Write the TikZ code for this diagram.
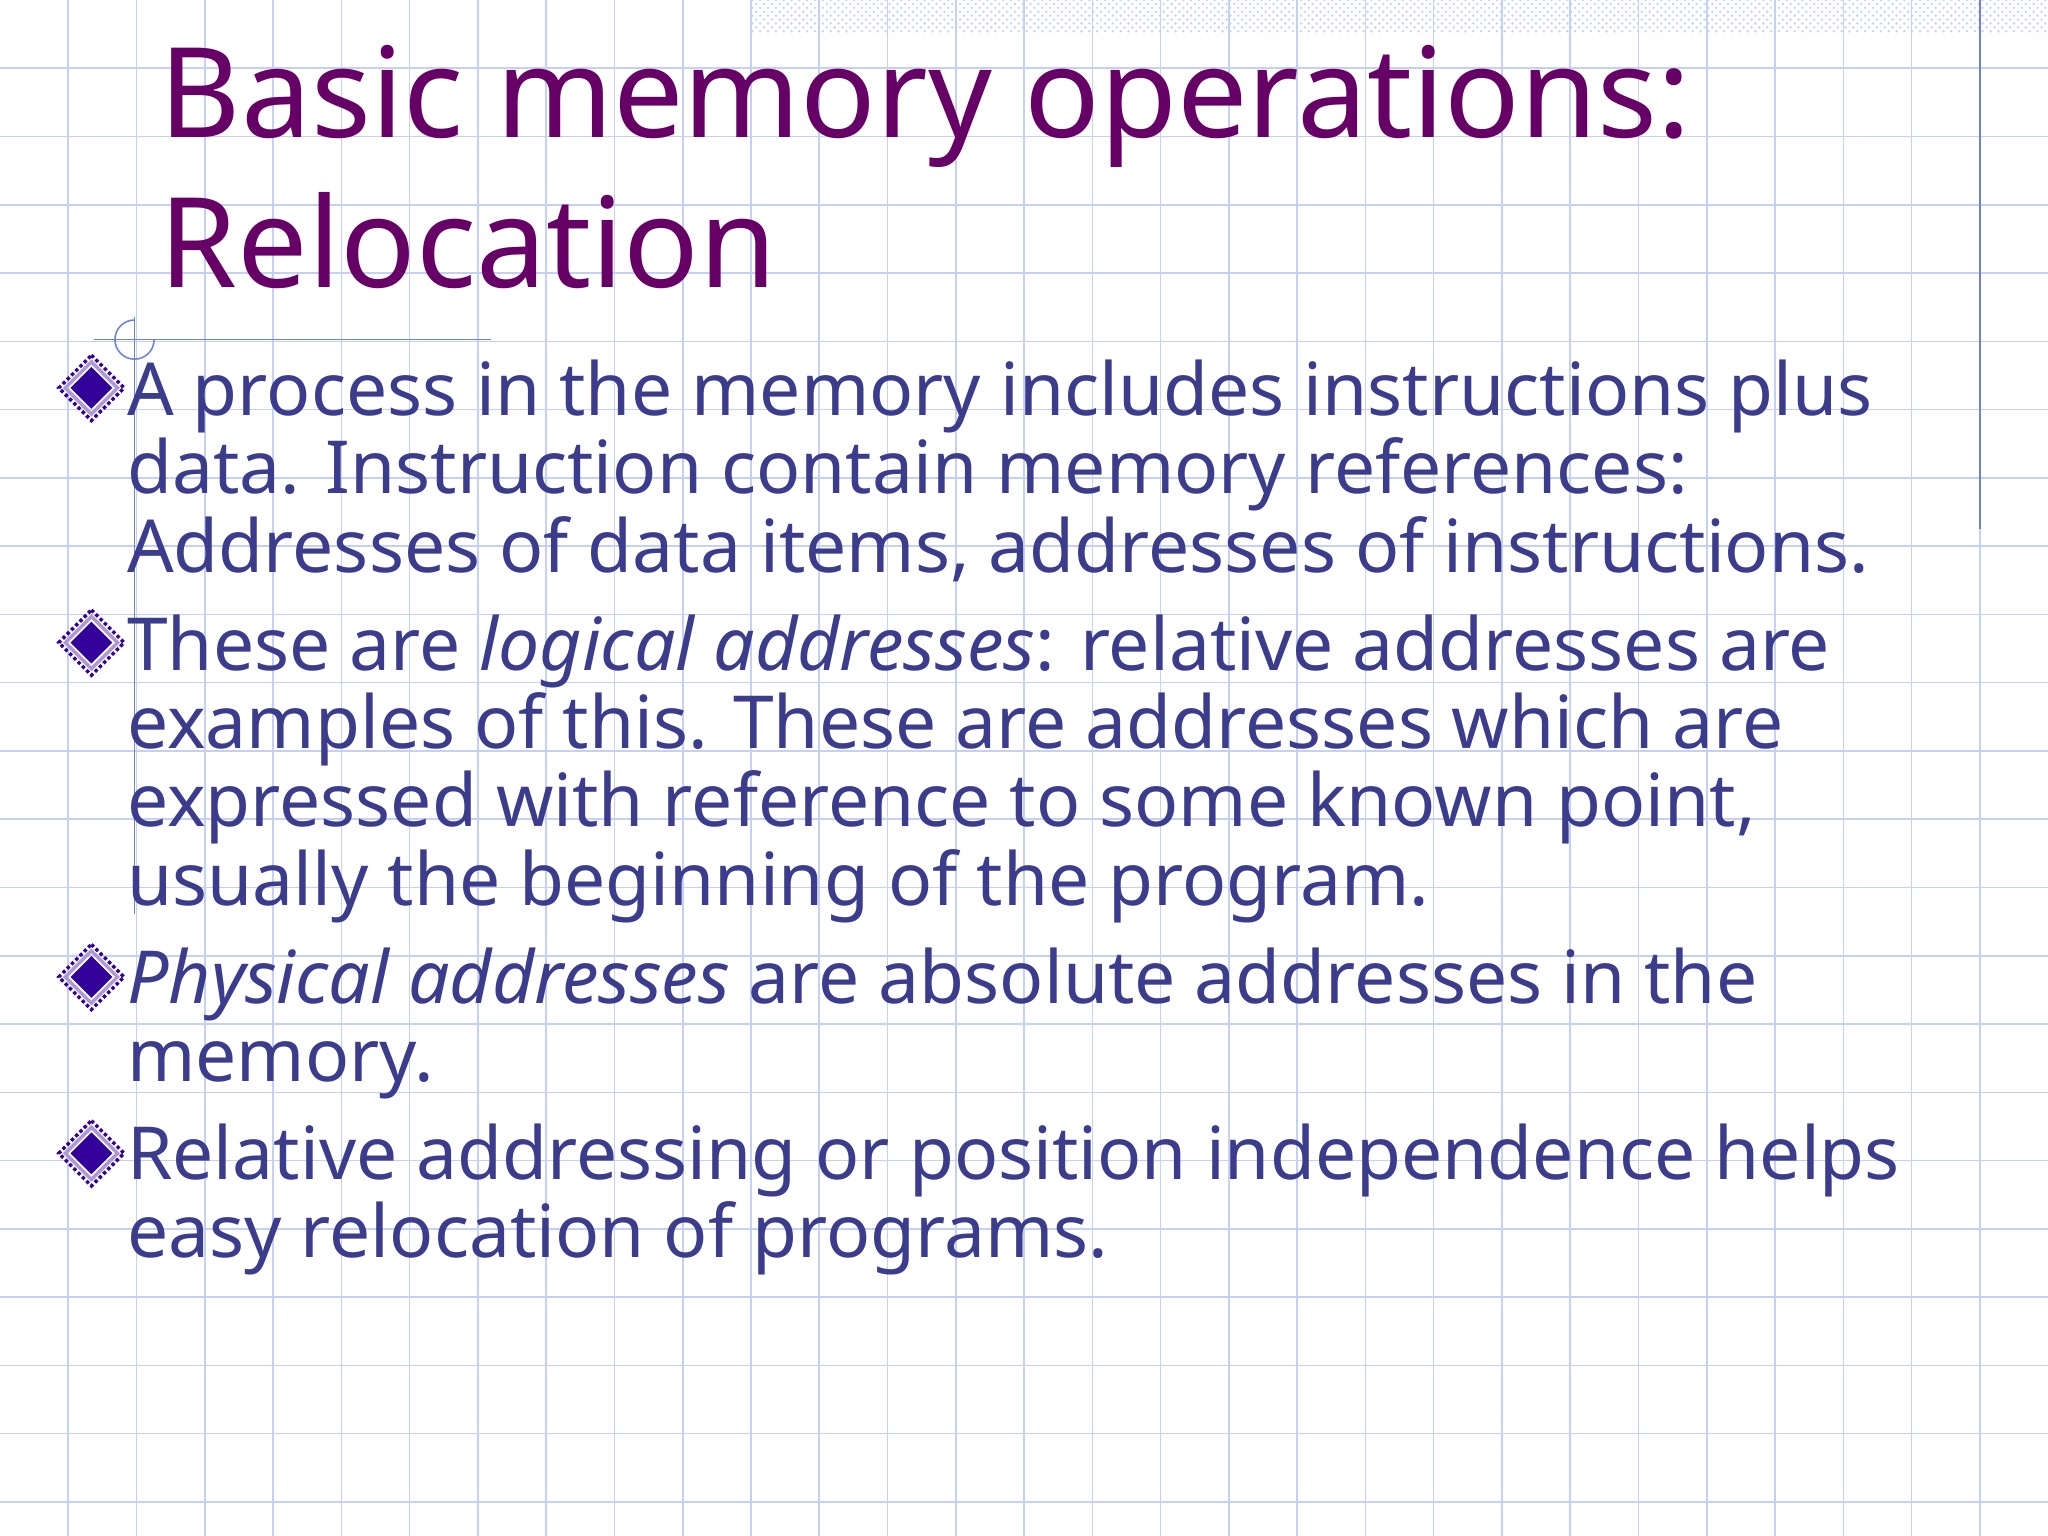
\documentclass[tikz,border=0pt]{standalone}
\usepackage{fontspec}
\setmainfont{Noto Sans}
\usetikzlibrary{patterns}
\definecolor{grid}{RGB}{196,208,245}
\definecolor{titlec}{RGB}{102,0,102}
\definecolor{bodyc}{RGB}{60,60,140}
\definecolor{bul}{RGB}{51,0,153}
\definecolor{acc}{RGB}{110,130,220}
\begin{document}
\begin{tikzpicture}[x=0.5pt,y=-0.5pt,
  ln/.style={anchor=base west,inner sep=0,text=bodyc,font=\fontsize{28}{30}\selectfont},
  tl/.style={anchor=base west,inner sep=0,text=titlec,font=\fontsize{47.9}{57}\selectfont}]
\useasboundingbox (0,0) rectangle (1568,1176);
\fill[white] (0,0) rectangle (1568,1176);
\foreach \i in {1,...,29} \draw[grid,line width=0.6pt] ({\i*52.27},0) -- ({\i*52.27},1176);
\foreach \j in {1,...,22} \draw[grid,line width=0.6pt] (0,{\j*52.27}) -- (1568,{\j*52.27});
\fill[pattern=crosshatch dots,pattern color=grid] (575,0) rectangle (1568,25);
\draw[acc,line width=0.6pt] (1516,0) -- (1516,405);
\draw[acc,line width=0.6pt] (72,260) -- (376,260);
\draw[acc,line width=0.6pt] (103,245) arc[start angle=270,end angle=0,radius=15];
\draw[acc,line width=0.6pt] (103,243) -- (103,700);
\node[tl] (t1) at (122,105) {Basic memory operations:};
\node[tl] (t2) at (122,220) {Relocation};
\foreach \y/\n in {297/b1,492/b2,748/b3,883/b4}{
  \draw[bul,densely dotted,line width=1.3pt] (70,\y-25) -- (95,\y) -- (70,\y+25) -- (45,\y) -- cycle;
  \draw[bul!40,line width=1.3pt] (70,\y-20) -- (90,\y) -- (70,\y+20) -- (50,\y) -- cycle;
  \fill[bul] (70,\y-16) -- (86,\y) -- (70,\y+16) -- (54,\y) -- cycle;
}
\node[ln] (l1) at (97,318) {A process in the memory includes instructions plus};
\node[ln] (l2) at (97,378) {data. Instruction contain memory references:};
\node[ln] (l3) at (97,438) {Addresses of data items, addresses of instructions.};
\node[ln] (l4) at (97,513) {These are \textit{logical addresses}: relative addresses are};
\node[ln] (l5) at (97,573) {examples of this. These are addresses which are};
\node[ln] (l6) at (97,633) {expressed with reference to some known point,};
\node[ln] (l7) at (97,693) {usually the beginning of the program.};
\node[ln] (l8) at (97,768) {\textit{Physical addresses} are absolute addresses in the};
\node[ln] (l9) at (97,828) {memory.};
\node[ln] (l10) at (97,903) {Relative addressing or position independence helps};
\node[ln] (l11) at (97,963) {easy relocation of programs.};
\end{tikzpicture}
\end{document}
